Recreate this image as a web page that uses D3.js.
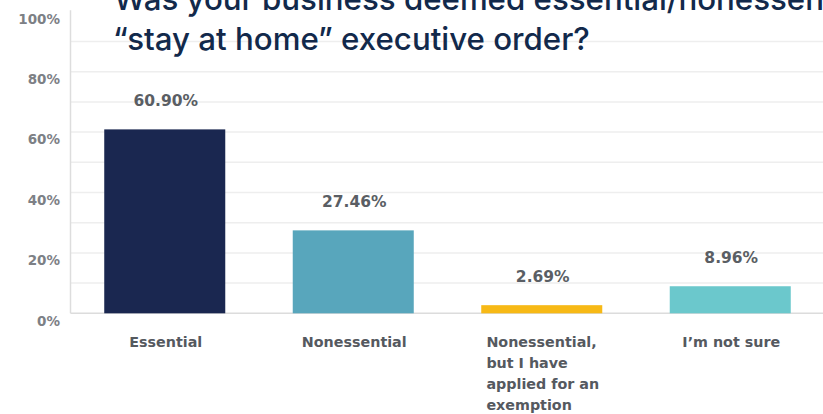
<!DOCTYPE html>
<html>
<head>
<meta charset="utf-8">
<script src="https://cdn.jsdelivr.net/npm/d3@7"></script>
<style>
  html, body { margin: 0; padding: 0; background: #fff; }
  svg { display: block; }
</style>
</head>
<body>
<svg id="chart" width="823" height="414"></svg>
<script>
const categories = ["Essential", "Nonessential", "Nonessential, but I have applied for an exemption", "I\u2019m not sure"];
const values = [60.90, 27.46, 2.69, 8.96];
const valueLabels = ["60.90%", "27.46%", "2.69%", "8.96%"];
const barColors = ["#1a2750", "#58a6bc", "#f7b916", "#6bc8cc"];
const yTicks = [0, 20, 40, 60, 80, 100];
const gridTicks = [10, 20, 30, 40, 50, 60, 70, 80, 90];
const titleLines = ["Was your business deemed essential/nonessential under the", "\u201cstay at home\u201d executive order?"];

const svg = d3.select("#chart");
const W = 823, H = 414;
const left = 70.5, baseY = 313.3, topY = 11.3;
const labelFont = "'DejaVu Sans', sans-serif";

const x = d3.scaleBand().domain(categories).range([left, left + 4 * 188.5])
  .paddingInner(0.358).paddingOuter(0.179);
const y = d3.scaleLinear().domain([0, 100]).range([baseY, topY]);

// gridlines
svg.append("g").selectAll("line").data(gridTicks).join("line")
  .attr("x1", left).attr("x2", W)
  .attr("y1", d => y(d)).attr("y2", d => y(d))
  .attr("stroke", "#eeeeee").attr("stroke-width", 1.5);

// y axis labels
const yAxis = d3.axisLeft(y).tickValues(yTicks).tickFormat(d => d + "%").tickSize(0).tickPadding(0);
const yg = svg.append("g").attr("transform", `translate(${left - 10.5},7.5)`).call(yAxis);
yg.select(".domain").remove();
yg.selectAll("text")
  .attr("font-family", labelFont)
  .attr("font-weight", 700).attr("font-size", 13.5).attr("fill", "#7d8085");

// axis lines
svg.append("line").attr("x1", left).attr("x2", left).attr("y1", topY - 1).attr("y2", baseY)
  .attr("stroke", "#dddddd").attr("stroke-width", 1.5);
svg.append("line").attr("x1", left).attr("x2", W).attr("y1", baseY).attr("y2", baseY)
  .attr("stroke", "#dcdcdc").attr("stroke-width", 1.5);

// bars
svg.append("g").selectAll("rect").data(values).join("rect")
  .attr("x", (d, i) => x(categories[i]))
  .attr("width", x.bandwidth())
  .attr("y", d => y(d))
  .attr("height", d => baseY - y(d))
  .attr("fill", (d, i) => barColors[i]);

// value labels
svg.append("g").selectAll("text").data(values).join("text")
  .attr("x", (d, i) => x(categories[i]) + x.bandwidth() / 2 + 1)
  .attr("y", d => y(d) - 29)
  .attr("dy", "0.35em")
  .attr("text-anchor", "middle")
  .attr("font-family", labelFont)
  .attr("font-weight", 700).attr("font-size", 15.5).attr("fill", "#5a5e64")
  .text((d, i) => valueLabels[i]);

// category labels (wrapped, block centered, lines left-aligned)
const catG = svg.append("g");
const catSize = 14.3;
categories.forEach((c, i) => {
  const t = catG.append("text")
    .attr("font-family", labelFont)
    .attr("font-weight", 700).attr("font-size", catSize).attr("fill", "#55595f");
  const words = c.split(" ");
  const maxW = x.bandwidth();
  let lines = [], cur = [];
  const probe = catG.append("text").attr("font-family", labelFont)
    .attr("font-weight", 700).attr("font-size", catSize);
  words.forEach(w => {
    const test = cur.concat([w]).join(" ");
    probe.text(test);
    if (probe.node().getComputedTextLength() > maxW && cur.length) {
      lines.push(cur.join(" ")); cur = [w];
    } else cur.push(w);
  });
  if (cur.length) lines.push(cur.join(" "));
  let widest = 0;
  lines.forEach(l => { probe.text(l); widest = Math.max(widest, probe.node().getComputedTextLength()); });
  probe.remove();
  const cx = x(c) + x.bandwidth() / 2 + 1;
  lines.forEach((l, j) => {
    t.append("tspan").attr("x", cx - widest / 2).attr("y", 342 + j * 21).attr("dy", "0.35em").text(l);
  });
});

// title
const tg = svg.append("g");
const titleFont = "Inter, 'Open Sans', sans-serif";
const t2 = tg.append("text").attr("x", 113).attr("y", 50)
  .attr("font-family", titleFont).attr("font-weight", 500).attr("font-size", 30).attr("fill", "#12294b")
  .text(titleLines[1]);
const fs = 30 * 477 / t2.node().getComputedTextLength();
t2.attr("font-size", fs);
tg.append("text").attr("x", 114).attr("y", 10)
  .attr("font-family", titleFont).attr("font-weight", 500).attr("font-size", fs).attr("fill", "#12294b")
  .text(titleLines[0]);
</script>
</body>
</html>
